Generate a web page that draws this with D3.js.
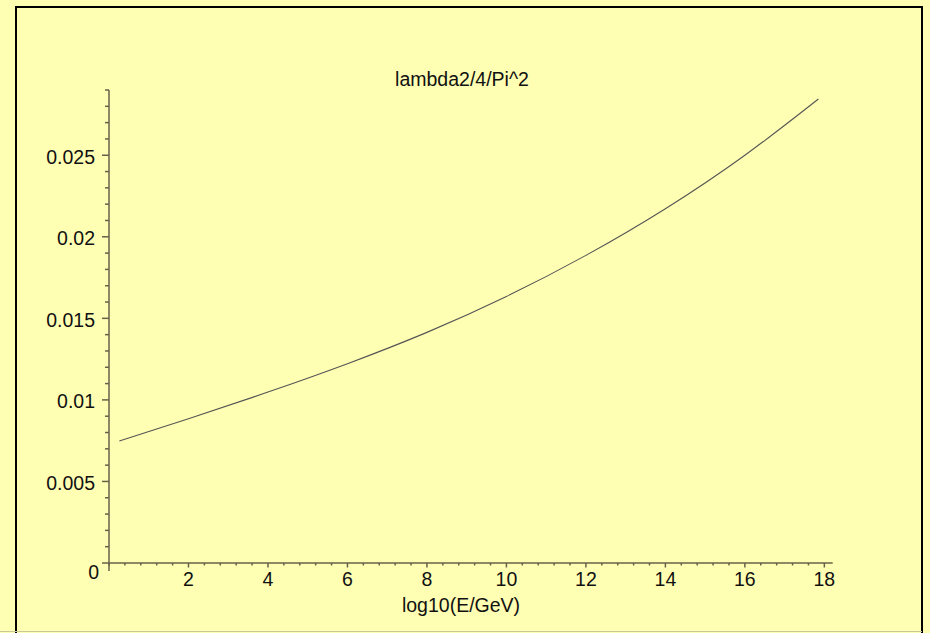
<!DOCTYPE html>
<html>
<head>
<meta charset="utf-8">
<script src="https://cdn.jsdelivr.net/npm/d3@7"></script>
<style>
  html, body { margin: 0; padding: 0; background: #ffffb4; }
  svg { display: block; }
  text { font-family: "Liberation Sans", Arial, sans-serif; fill: #111; }
</style>
</head>
<body>
<script>
// curve samples: x = log10(E/GeV), y = lambda2/4/Pi^2
const xValues = [0.26, 2, 4, 6, 8, 10, 12, 14, 16, 17.85];
const yValues = [0.00748, 0.00884, 0.01048, 0.01222, 0.01414, 0.01634, 0.01886, 0.02172, 0.0250, 0.02845];

// ticks
const xMajorTicks = [2, 4, 6, 8, 10, 12, 14, 16, 18];
const yMajorTicks = [0.005, 0.01, 0.015, 0.02, 0.025];
const yTickLabels = ["0.005", "0.01", "0.015", "0.02", "0.025"];

const title = "lambda2/4/Pi^2";
const xLabel = "log10(E/GeV)";

const W = 930, H = 633;
const FONT = 19.5;
const AXIS_COLOR = "#66624a";

const svg = d3.select("body").append("svg")
    .attr("width", W)
    .attr("height", H);

// frame
svg.append("rect")
    .attr("x", 16).attr("y", 7)
    .attr("width", 906).attr("height", 640)
    .attr("fill", "none")
    .attr("stroke", "#000")
    .attr("stroke-width", 2);
svg.append("line")
    .attr("x1", 0).attr("x2", 922)
    .attr("y1", 631.5).attr("y2", 631.5)
    .attr("stroke", "#c9c89a")
    .attr("stroke-width", 1);

const x = d3.scaleLinear([0, 18.21], [109, 832.7]);
const y = d3.scaleLinear([0, 0.029], [563, 90]);

const xMinor = d3.range(0, 18.01, 0.4).filter(v => !xMajorTicks.some(t => Math.abs(t - v) < 1e-6));
const yMinor = d3.range(0, 0.02901, 0.001).filter(v => !yMajorTicks.some(t => Math.abs(t - v) < 1e-7) && v > 1e-7);

const axes = svg.append("g")
    .attr("stroke", AXIS_COLOR)
    .attr("stroke-width", 1.5);

// axis lines (each overshoots a bit past the origin, like the original)
axes.append("line")
    .attr("x1", x(0) - 7).attr("x2", x.range()[1])
    .attr("y1", y(0)).attr("y2", y(0));
axes.append("line")
    .attr("x1", x(0)).attr("x2", x(0))
    .attr("y1", y.range()[1]).attr("y2", y(0) + 8);

// x ticks hang below the axis
axes.selectAll(".xmaj").data(xMajorTicks).join("line")
    .attr("x1", d => x(d)).attr("x2", d => x(d))
    .attr("y1", y(0)).attr("y2", y(0) + 4.5);
axes.selectAll(".xmin").data(xMinor).join("line")
    .attr("x1", d => x(d)).attr("x2", d => x(d))
    .attr("y1", y(0)).attr("y2", y(0) + 2.5);

// y ticks point left
axes.selectAll(".ymaj").data(yMajorTicks).join("line")
    .attr("x1", x(0) - 7).attr("x2", x(0))
    .attr("y1", d => y(d)).attr("y2", d => y(d));
axes.selectAll(".ymin").data(yMinor).join("line")
    .attr("x1", x(0) - 4).attr("x2", x(0))
    .attr("y1", d => y(d)).attr("y2", d => y(d));

// tick labels
svg.append("g").selectAll("text").data(xMajorTicks).join("text")
    .attr("x", d => x(d))
    .attr("y", y(0) + 23)
    .attr("text-anchor", "middle")
    .attr("font-size", FONT)
    .text(d => d);

svg.append("g").selectAll("text").data(yMajorTicks).join("text")
    .attr("x", x(0) - 14)
    .attr("y", d => y(d) + 8.5)
    .attr("text-anchor", "end")
    .attr("font-size", FONT)
    .text((d, i) => yTickLabels[i]);

svg.append("text")
    .attr("x", x(0) - 10)
    .attr("y", y(0) + 16)
    .attr("text-anchor", "end")
    .attr("font-size", FONT)
    .text("0");

// titles
svg.append("text")
    .attr("x", 462).attr("y", 86)
    .attr("text-anchor", "middle")
    .attr("font-size", FONT)
    .text(title);

svg.append("text")
    .attr("x", 461).attr("y", 612)
    .attr("text-anchor", "middle")
    .attr("font-size", FONT)
    .text(xLabel);

// curve
const pts = xValues.map((v, i) => [v, yValues[i]]);
svg.append("path")
    .datum(pts)
    .attr("fill", "none")
    .attr("stroke", "#555")
    .attr("stroke-width", 1.1)
    .attr("d", d3.line()
        .x(d => x(d[0]))
        .y(d => y(d[1]))
        .curve(d3.curveNatural));
</script>
</body>
</html>
